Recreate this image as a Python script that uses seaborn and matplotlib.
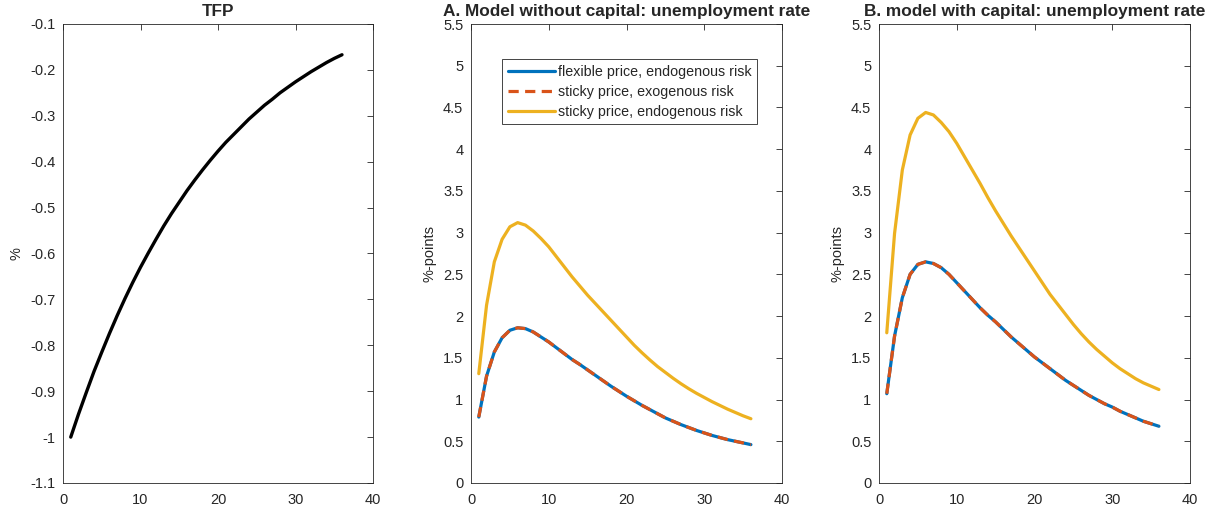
import matplotlib
matplotlib.use('Agg')
import matplotlib.pyplot as plt
import seaborn as sns
import numpy as np

sns.set_style('white')
plt.rcParams['font.family'] = ['Liberation Sans', 'DejaVu Sans']
plt.rcParams.update({'font.size': 10.5, 'axes.edgecolor': '#262626',
                     'axes.linewidth': 0.6, 'xtick.color': '#262626',
                     'ytick.color': '#262626'})

# horizon (quarters)
periods = list(range(1, 37))

# TFP shock, %
tfp = [-1.000, -0.950, -0.903, -0.857, -0.815, -0.774, -0.735, -0.698, -0.663,
       -0.630, -0.599, -0.569, -0.540, -0.513, -0.488, -0.463, -0.440, -0.418,
       -0.397, -0.377, -0.358, -0.341, -0.324, -0.307, -0.292, -0.277, -0.264,
       -0.250, -0.238, -0.226, -0.215, -0.204, -0.194, -0.184, -0.175, -0.167]

# A. model without capital, %-points
a_flex_endo = [0.79, 1.28, 1.57, 1.74, 1.83, 1.86, 1.85, 1.81, 1.75, 1.69, 1.62,
               1.55, 1.48, 1.42, 1.355, 1.29, 1.225, 1.16, 1.10, 1.04, 0.985, 0.93,
               0.88, 0.83, 0.78, 0.74, 0.70, 0.665, 0.63, 0.60, 0.57, 0.545, 0.52,
               0.50, 0.48, 0.46]
a_sticky_exo = [0.79, 1.28, 1.57, 1.74, 1.83, 1.86, 1.85, 1.81, 1.75, 1.69, 1.62,
                1.55, 1.48, 1.42, 1.355, 1.29, 1.225, 1.16, 1.10, 1.04, 0.985, 0.93,
                0.88, 0.83, 0.78, 0.74, 0.70, 0.665, 0.63, 0.60, 0.57, 0.545, 0.52,
                0.50, 0.48, 0.46]
a_sticky_endo = [1.31, 2.13, 2.65, 2.92, 3.07, 3.12, 3.09, 3.02, 2.93, 2.83, 2.71,
                 2.59, 2.47, 2.36, 2.25, 2.15, 2.05, 1.95, 1.85, 1.75, 1.65, 1.56,
                 1.475, 1.395, 1.325, 1.255, 1.19, 1.13, 1.075, 1.025, 0.975, 0.93,
                 0.885, 0.845, 0.805, 0.77]

# B. model with capital, %-points
b_flex_endo = [1.07, 1.76, 2.22, 2.50, 2.62, 2.65, 2.63, 2.58, 2.50, 2.40, 2.30,
               2.20, 2.10, 2.01, 1.93, 1.84, 1.75, 1.67, 1.59, 1.51, 1.44, 1.37,
               1.30, 1.23, 1.17, 1.11, 1.05, 1.00, 0.95, 0.91, 0.86, 0.82, 0.78,
               0.74, 0.71, 0.68]
b_sticky_exo = [1.07, 1.76, 2.22, 2.50, 2.62, 2.65, 2.63, 2.58, 2.50, 2.40, 2.30,
                2.20, 2.10, 2.01, 1.93, 1.84, 1.75, 1.67, 1.59, 1.51, 1.44, 1.37,
                1.30, 1.23, 1.17, 1.11, 1.05, 1.00, 0.95, 0.91, 0.86, 0.82, 0.78,
                0.74, 0.71, 0.68]
b_sticky_endo = [1.80, 2.99, 3.75, 4.17, 4.37, 4.44, 4.41, 4.32, 4.21, 4.07, 3.91,
                 3.75, 3.59, 3.42, 3.26, 3.11, 2.96, 2.82, 2.68, 2.54, 2.40, 2.26,
                 2.14, 2.02, 1.90, 1.79, 1.69, 1.60, 1.52, 1.44, 1.37, 1.31, 1.25,
                 1.20, 1.16, 1.12]

labels = ['flexible price, endogenous risk', 'sticky price, exogenous risk',
          'sticky price, endogenous risk']
colors = ['#0072BD', '#D95319', '#EDB120']


def style_axes(ax, ylim, yticks):
    ax.set_xlim(0, 40)
    ax.set_xticks([0, 10, 20, 30, 40])
    ax.set_ylim(*ylim)
    ax.set_yticks(yticks)
    ax.set_yticklabels([f'{v:g}' for v in yticks])
    ax.tick_params(direction='in', top=True, right=True, length=4, width=0.6,
                   labelsize=10.5)
    ax.tick_params(axis='x', pad=7)
    ax.tick_params(axis='y', pad=5.5)
    for s in ax.spines.values():
        s.set_visible(True)
        s.set_color('#262626')
        s.set_linewidth(0.6)


fig = plt.figure(figsize=(12.16, 5.15), dpi=100)
ax1 = fig.add_axes([63 / 1216, 1 - 483 / 515, 310 / 1216, 459 / 515])
ax2 = fig.add_axes([471 / 1216, 1 - 483 / 515, 311 / 1216, 459 / 515])
ax3 = fig.add_axes([879 / 1216, 1 - 483 / 515, 311 / 1216, 459 / 515])

# TFP
sns.lineplot(x=periods, y=tfp, ax=ax1, color='black', linewidth=2.4)
style_axes(ax1, (-1.1, -0.1), list(np.round(np.arange(-1.1, -0.05, 0.1), 1)))
ax1.set_title('TFP', fontweight='bold', fontsize=12.4, pad=6)
ax1.set_ylabel('%', fontsize=10.5, labelpad=5)

# panel A and B
uticks = list(np.arange(0, 5.51, 0.5))
for ax, series, title in [
        (ax2, [a_flex_endo, a_sticky_exo, a_sticky_endo],
         'A. Model without capital: unemployment rate'),
        (ax3, [b_flex_endo, b_sticky_exo, b_sticky_endo],
         'B. model with capital: unemployment rate')]:
    sns.lineplot(x=periods, y=series[0], ax=ax, color=colors[0], linewidth=2.3,
                 label=labels[0])
    sns.lineplot(x=periods, y=series[1], ax=ax, color=colors[1], linewidth=2.3,
                 linestyle=(0, (3.2, 2.0)), label=labels[1])
    sns.lineplot(x=periods, y=series[2], ax=ax, color=colors[2], linewidth=2.3,
                 label=labels[2])
    style_axes(ax, (0, 5.5), uticks)
    ax.set_title(title, fontweight='bold', fontsize=12.4, pad=6)
    ax.set_ylabel('%-points', fontsize=10.5, labelpad=4.5)

leg = ax2.legend(loc='upper left', bbox_to_anchor=(0.10, 0.924), borderaxespad=0,
                 fontsize=10.3, handlelength=3.3, frameon=True, fancybox=False,
                 edgecolor='#262626', framealpha=1, labelspacing=0.42,
                 handletextpad=0.2, borderpad=0.4)
leg.get_frame().set_linewidth(0.6)
ax3.get_legend().remove()

plt.savefig('out.png', dpi=100)
